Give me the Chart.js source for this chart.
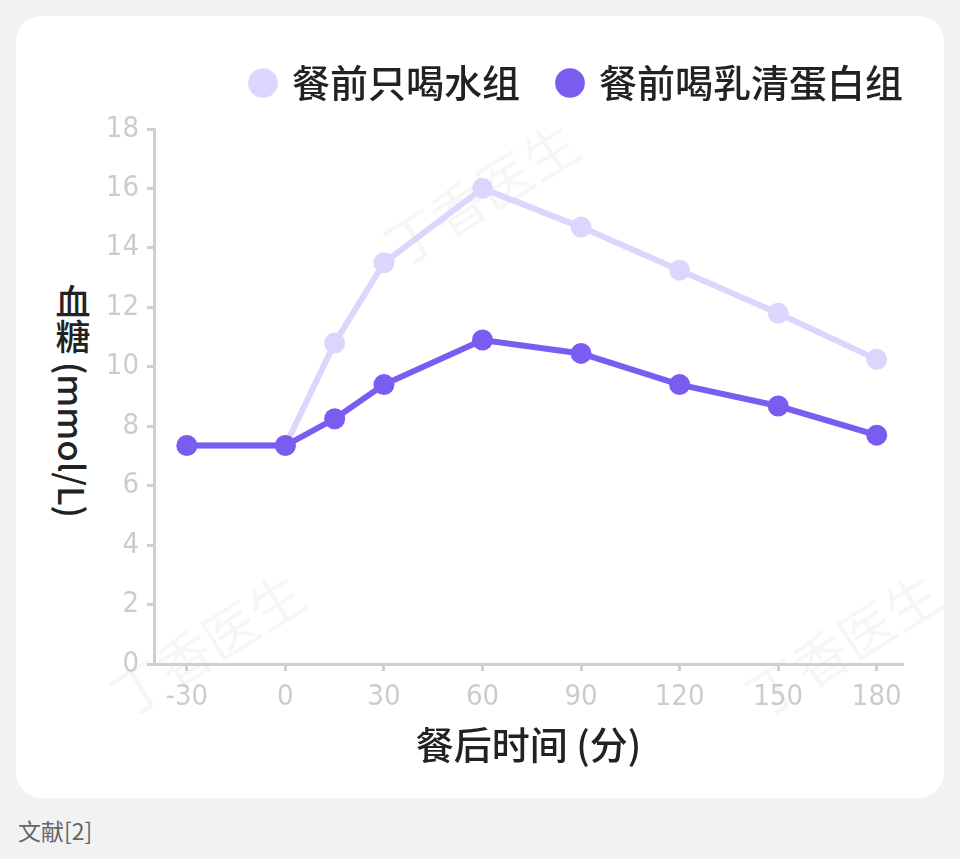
<!DOCTYPE html>
<html>
<head>
    <meta charset="utf-8">
    <title>餐后血糖变化</title>
    <style>
        body {
            margin: 0;
            width: 960px;
            height: 859px;
            background-color: #f2f2f4;
            font-family: "Noto Sans CJK SC", sans-serif;
            position: relative;
            overflow: hidden;
        }

        .card {
            position: absolute;
            left: 16px;
            top: 16px;
            width: 928px;
            height: 782px;
            background-color: #fff;
            border-radius: 26px;
            overflow: hidden;
        }

        .chart-box {
            position: absolute;
            left: 0;
            top: 0;
            width: 928px;
            height: 782px;
        }

        .y-title {
            position: absolute;
            left: 57px;
            top: 385px;
            transform: translate(-50%, -50%);
            writing-mode: vertical-rl;
            font-size: 35px;
            font-weight: 500;
            color: #222;
            white-space: nowrap;
        }

        .mark {
            position: absolute;
            font-size: 54px;
            color: rgba(0, 0, 0, 0.035);
            transform: translate(-50%, -50%) rotate(-32deg);
            white-space: nowrap;
        }

        .source {
            position: absolute;
            left: 18px;
            top: 813px;
            font-size: 23px;
            color: #666;
        }
    </style>
</head>
<body>
<div class="card">
    <div class="mark" style="left:464px; top:176px;">丁香医生</div>
    <div class="mark" style="left:190px; top:626px;">丁香医生</div>
    <div class="mark" style="left:826px; top:626px;">丁香医生</div>
    <div class="y-title">血糖 (mmol/L)</div>
    <div class="chart-box">
        <canvas id="glucoseChart"></canvas>
    </div>
</div>
<div class="source">文献[2]</div>

<script src="https://cdn.jsdelivr.net/npm/chart.js@4.4.1/dist/chart.umd.min.js"></script>
<script>
    // 时间点（分钟）与两组血糖值
    const times = [-30, 0, 15, 30, 60, 90, 120, 150, 180];
    const waterGroup = [7.35, 7.35, 10.8, 13.5, 16.0, 14.7, 13.25, 11.8, 10.25];
    const wheyGroup = [7.35, 7.35, 8.25, 9.4, 10.9, 10.45, 9.4, 8.68, 7.7];
    const xTicks = [-30, 0, 30, 60, 90, 120, 150, 180];
    const seriesNames = ['餐前只喝水组', '餐前喝乳清蛋白组'];

    const lightColor = '#dad6fe';
    const darkColor = '#7b5cf0';
    const axisColor = '#cfcfcf';
    const tickFont = {family: '"Liberation Sans Narrow", "DejaVu Sans Condensed", Roboto, sans-serif', size: 29, weight: 300};

    function toPoints(values) {
        return times.map((t, i) => ({x: t, y: values[i]}));
    }

    function makeDataset(label, values, color, order) {
        return {
            label: label,
            data: toPoints(values),
            borderColor: color,
            backgroundColor: color,
            pointBackgroundColor: color,
            pointBorderWidth: 0,
            pointRadius: 10.5,
            pointHoverRadius: 10.5,
            borderWidth: 6,
            tension: 0,
            order: order
        };
    }

    // 图例下方多留一点空，并把图例整体往右挪
    const legendTweak = {
        id: 'legendTweak',
        afterInit(chart) {
            const legend = chart.legend;
            const fit = legend.fit.bind(legend);
            legend.fit = function () {
                fit();
                this.height += 17;
            };
        },
        afterLayout(chart) {
            chart.legend.left += 40;
            chart.legend.right += 40;
        }
    };

    const ctx = document.getElementById('glucoseChart');

    new Chart(ctx, {
        type: 'line',
        data: {
            datasets: [
                makeDataset(seriesNames[0], waterGroup, lightColor, 2),
                makeDataset(seriesNames[1], wheyGroup, darkColor, 1)
            ]
        },
        options: {
            responsive: true,
            maintainAspectRatio: false,
            animation: false,
            layout: {
                padding: {top: 8, right: 41, bottom: 0, left: 0}
            },
            scales: {
                x: {
                    type: 'linear',
                    min: -40,
                    max: 188,
                    afterBuildTicks: axis => {
                        axis.ticks = xTicks.map(v => ({value: v}));
                    },
                    afterFit: scale => {
                        scale.height = 134;
                    },
                    border: {color: axisColor, width: 3},
                    grid: {
                        drawOnChartArea: false,
                        drawTicks: true,
                        tickLength: 7,
                        tickWidth: 3,
                        tickColor: axisColor
                    },
                    ticks: {
                        color: '#cccccc',
                        padding: 9,
                        maxRotation: 0,
                        font: tickFont
                    },
                    title: {
                        display: true,
                        text: '餐后时间 (分)',
                        color: '#222',
                        padding: {top: 0, bottom: 31},
                        font: {family: '"Noto Sans CJK SC"', size: 38, weight: 500}
                    }
                },
                y: {
                    min: 0,
                    max: 18,
                    afterFit: scale => {
                        scale.width = 138;
                    },
                    border: {color: axisColor, width: 3},
                    grid: {
                        drawOnChartArea: false,
                        drawTicks: true,
                        tickLength: 7,
                        tickWidth: 3,
                        tickColor: axisColor
                    },
                    ticks: {
                        stepSize: 2,
                        color: '#cccccc',
                        padding: 8,
                        font: tickFont
                    }
                }
            },
            plugins: {
                legend: {
                    align: 'end',
                    labels: {
                        usePointStyle: true,
                        pointStyle: 'circle',
                        boxWidth: 20,
                        boxHeight: 21,
                        padding: 40,
                        color: '#222',
                        font: {family: '"Noto Sans CJK SC"', size: 38, weight: 500},
                        sort: (a, b) => a.datasetIndex - b.datasetIndex,
                        generateLabels: chart => {
                            const items = Chart.defaults.plugins.legend.labels.generateLabels(chart);
                            items.forEach(item => {
                                item.lineWidth = 0;
                                item.strokeStyle = 'transparent';
                            });
                            return items;
                        }
                    }
                },
                tooltip: {enabled: false}
            }
        },
        plugins: [legendTweak]
    });
</script>
</body>
</html>
